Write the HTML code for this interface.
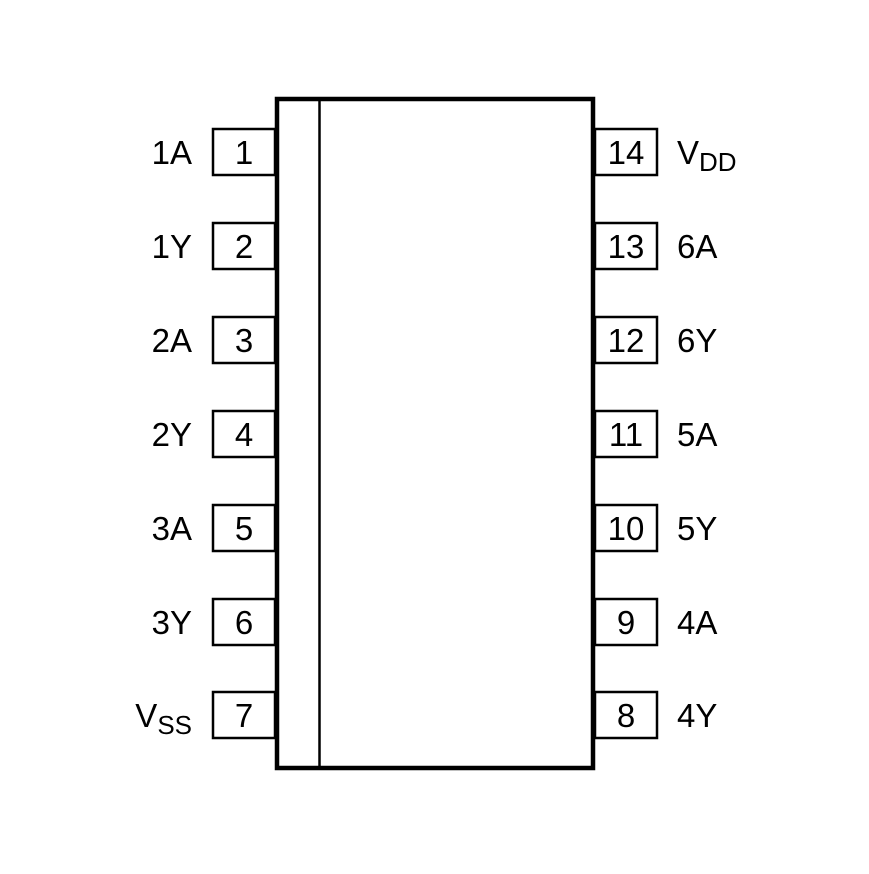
<!DOCTYPE html>
<html><head><style>body{margin:0;background:#fff}</style></head><body>
<svg width="869" height="869" xmlns="http://www.w3.org/2000/svg" font-family="Liberation Sans, Arial, sans-serif" font-size="33" fill="#000">
<rect x="0" y="0" width="869" height="869" fill="#fff"/>
<g fill="#fff" stroke="#000" stroke-width="2.5">
<rect x="213" y="129" width="62" height="46"/><rect x="213" y="223" width="62" height="46"/><rect x="213" y="317" width="62" height="46"/><rect x="213" y="411" width="62" height="46"/><rect x="213" y="505" width="62" height="46"/><rect x="213" y="599" width="62" height="46"/><rect x="213" y="692" width="62" height="46"/>
<rect x="595" y="129" width="62" height="46"/><rect x="595" y="223" width="62" height="46"/><rect x="595" y="317" width="62" height="46"/><rect x="595" y="411" width="62" height="46"/><rect x="595" y="505" width="62" height="46"/><rect x="595" y="599" width="62" height="46"/><rect x="595" y="692" width="62" height="46"/>
</g>
<rect x="277" y="99" width="316" height="669" fill="#fff" stroke="#000" stroke-width="4.5"/>
<line x1="319.5" y1="99" x2="319.5" y2="768" stroke="#000" stroke-width="2.5"/>
<g text-anchor="middle">
<text x="244" y="164">1</text><text x="244" y="258">2</text><text x="244" y="352">3</text><text x="244" y="446">4</text><text x="244" y="540">5</text><text x="244" y="634">6</text><text x="244" y="727">7</text>
<text x="626" y="164">14</text><text x="626" y="258">13</text><text x="626" y="352">12</text><text x="626" y="446">11</text><text x="626" y="540">10</text><text x="626" y="634">9</text><text x="626" y="727">8</text>
</g>
<g text-anchor="end">
<text x="192" y="164">1A</text><text x="192" y="258">1Y</text><text x="192" y="352">2A</text><text x="192" y="446">2Y</text><text x="192" y="540">3A</text><text x="192" y="634">3Y</text>
<text x="192" y="727">V<tspan font-size="26" dy="7">SS</tspan></text>
</g>
<g>
<text x="677" y="164">V<tspan font-size="26" dy="7">DD</tspan></text>
<text x="677" y="258">6A</text><text x="677" y="352">6Y</text><text x="677" y="446">5A</text><text x="677" y="540">5Y</text><text x="677" y="634">4A</text><text x="677" y="727">4Y</text>
</g>
</svg>
</body></html>
